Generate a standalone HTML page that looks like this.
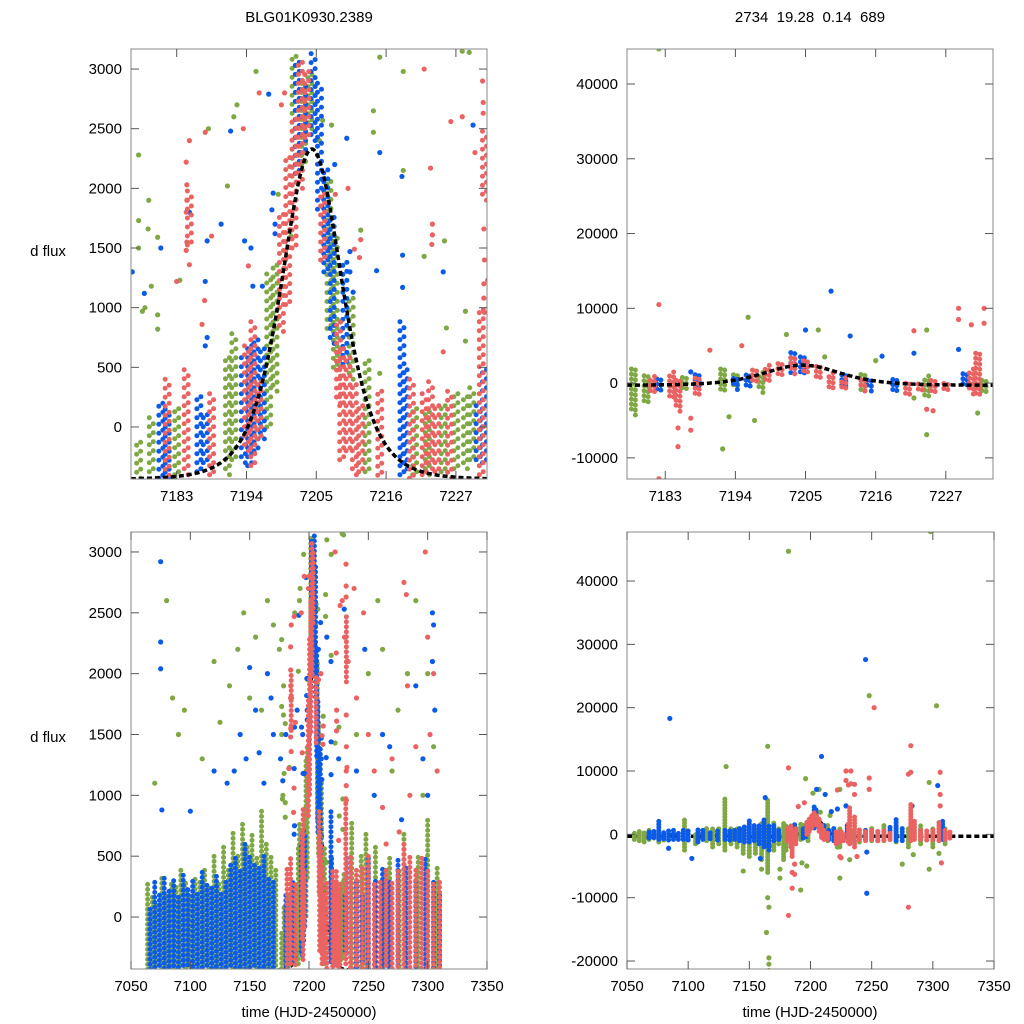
<!DOCTYPE html>
<html><head><meta charset="utf-8">
<style>
html,body{margin:0;padding:0;background:#fff;}
svg{display:block;font-family:"Liberation Sans",sans-serif;}
</style></head>
<body>
<svg id="chart" width="1024" height="1024" viewBox="0 0 1024 1024">
<text x="309" y="22" text-anchor="middle" font-size="15">BLG01K0930.2389</text>
<text x="810" y="22" text-anchor="middle" font-size="15" xml:space="preserve">2734  19.28  0.14  689</text>
<text x="48" y="256" text-anchor="middle" font-size="15">d flux</text>
<text x="48" y="742" text-anchor="middle" font-size="15">d flux</text>
<text x="309" y="1017" text-anchor="middle" font-size="15">time (HJD-2450000)</text>
<text x="810" y="1017" text-anchor="middle" font-size="15">time (HJD-2450000)</text>
</svg>
<script>
// ---- left star data: nightly streaks [time, lo, hi] and scattered points [time, flux]
const leftBlueStreaks=[[7066,-430,100],[7070,-430,300],[7074,-430,200],[7078,-430,350],[7082,-430,250],[7086,-400,300],[7090,-430,200],[7094,-430,350],[7098,-400,250],[7102,-430,300],[7106,-430,200],[7110,-430,400],[7114,-430,300],[7118,-430,250],[7122,-430,350],[7126,-430,200],[7130,-430,300],[7134,-430,450],[7138,-430,500],[7142,-430,400],[7146,-430,600],[7150,-430,500],[7154,-430,450],[7158,-430,400],[7162,-430,500],[7166,-430,350],[7170,-430,300],[7180.5,-430,200],[7181.5,-430,150],[7186.5,-400,300],[7187.5,-300,150],[7193.5,-300,600],[7194.5,-350,700],[7195.5,-200,750],[7196.5,-100,700],[7202,2100,3100],[7203,2300,2900],[7204.5,2400,3150],[7205.5,1800,2900],[7206.5,1300,2200],[7207.5,700,1800],[7209.5,500,1400],[7218.5,-400,900],[7219,-350,500],[7230.5,-300,200],[7231.5,-300,500],[7240,-430,300],[7245,-400,200],[7250,-430,500],[7256,-430,300],[7262,-430,400],[7268,-430,300],[7275,-430,500],[7282,-430,400],[7290,-430,300],[7298,-430,500],[7305,-430,300],[7310,-430,200]];
const leftRedStreaks=[[7181.5,-430,400],[7184.5,-400,500],[7185,1500,2000],[7188.5,-400,300],[7194,-200,700],[7195,-350,900],[7196,-100,400],[7199.5,800,1800],[7200.5,1000,2300],[7201.5,1500,2600],[7202.5,2000,3100],[7203.5,2400,3000],[7206,1400,2000],[7208.5,200,900],[7209,-300,700],[7210,-200,600],[7211,-400,400],[7212,-400,200],[7222,-400,300],[7223,-350,400],[7224,-400,200],[7231,-400,1000],[7231.5,1900,2500],[7215,-430,300],[7220,-430,400],[7226,-430,300],[7235,-430,500],[7240,-430,400],[7245,-430,400],[7250,-430,500],[7255,-430,300],[7260,-430,300],[7265,-430,400],[7270,-430,300],[7275,-430,400],[7280,-430,600],[7285,-430,500],[7290,-430,400],[7295,-430,500],[7300,-430,400],[7305,-430,300],[7310,-430,300]];
const leftGreenStreaks=[[7064,-430,300],[7068,-430,200],[7072,-430,100],[7076,-430,350],[7080,-430,200],[7084,-430,300],[7088,-430,250],[7092,-430,400],[7096,-430,300],[7100,-430,200],[7104,-430,350],[7108,-430,300],[7112,-430,400],[7116,-430,250],[7120,-430,500],[7124,-430,300],[7128,-430,600],[7132,-430,400],[7136,-430,700],[7140,-430,500],[7144,-430,800],[7148,-430,600],[7152,-430,700],[7156,-430,500],[7160,-430,900],[7164,-430,600],[7168,-430,500],[7172,-430,400],[7177,-430,-100],[7179,-400,100],[7183,-400,200],[7191,-400,600],[7192,-300,800],[7197.5,0,1300],[7198.5,300,1400],[7201.5,2000,3150],[7203,2200,2900],[7204,2500,3000],[7207,800,2100],[7208,500,1600],[7210.5,400,1100],[7213,-400,600],[7220.5,-400,200],[7222.5,-400,150],[7225,-400,200],[7227,-350,300],[7228.5,-350,300],[7229.5,-300,350],[7236,-430,800],[7244,-430,500],[7248,-430,700],[7256,-430,600],[7264,-430,400],[7268,-430,500],[7276,-430,400],[7280,-430,700],[7292,-430,500],[7300,-430,800],[7308,-430,400]];
const leftBluePts=[[7180.5,1500],[7177.9,1120],[7187.8,1560],[7187.5,1220],[7187.8,750],[7187.5,680],[7191.5,2480],[7193.7,1560],[7194.7,1500],[7195,1180],[7196.5,1180],[7197.5,2790],[7198.2,1960],[7198,1820],[7198.5,1700],[7198.5,1620],[7209.8,2420],[7207.9,2200],[7210.3,1470],[7210.3,1300],[7210.8,1130],[7214.5,1310],[7218.5,2100],[7218.6,1440],[7218.6,1170],[7229.7,2530],[7075,2920],[7075,2260],[7075,2040],[7076,880],[7100,870],[7120,1200],[7131,1100],[7137,1200],[7142,1500],[7147,1300],[7150,2050],[7155,1700],[7158,1350],[7162,1100],[7165,2000],[7168,1800],[7170,1500],[7176,1300],[7185,1800],[7190,1700],[7215,2300],[7225,1300],[7240,1200],[7247,2200],[7255,1000],[7262,1500],[7268,1400],[7278,800],[7290,1900],[7296,1300],[7304,2500],[7305,2400],[7304,2100],[7300,1000],[7306,1700]];
const leftRedPts=[[7183,1220],[7184.5,2220],[7184.6,2030],[7184.6,1900],[7184.5,1800],[7184.6,1550],[7184.5,1480],[7185,1360],[7187.5,2470],[7187.4,1060],[7188.5,1600],[7187,860],[7193.5,2500],[7194.3,1350],[7199.5,2700],[7200,2800],[7208,1950],[7211.8,1420],[7212,1570],[7211,1490],[7223,2170],[7223.3,1700],[7223.3,1610],[7223.2,1530],[7226.2,2560],[7231.2,2900],[7231.3,2720],[7231.3,2630],[7231.4,1660],[7231.5,1400],[7231.4,1200],[7231.4,1080],[7231.5,960],[7225,630],[7232,1230],[7185,2400],[7196,2800],[7210,2000],[7222,3000],[7228,2600],[7230,2300],[7233,2100],[7238,2700],[7240,1800],[7246,2500],[7250,1500],[7255,1200],[7262,900],[7270,1300],[7280,2750],[7282,2650],[7283,1900],[7285,1000],[7290,1400],[7298,3000],[7300,2300],[7302,1500],[7305,2000],[7308,1200],[7276,700],[7265,600]];
const leftGreenPts=[[7177,2280],[7177,1730],[7178.6,1900],[7178.5,1660],[7177,1500],[7180,1590],[7179,1180],[7178,1000],[7177.6,970],[7180,940],[7180,820],[7183.5,1230],[7188,2500],[7191,2020],[7192.5,2700],[7192,2600],[7195.5,2980],[7199,1950],[7201,1600],[7205.5,2400],[7206,2570],[7207.4,2530],[7212,1650],[7214,2650],[7214,2470],[7218.7,2980],[7218.7,2150],[7222,1430],[7225.2,1560],[7225.5,830],[7229.1,3140],[7228.5,970],[7228.5,720],[7215,450],[7195.5,160],[7070,1100],[7080,2600],[7085,1800],[7090,1500],[7095,1700],[7110,1300],[7120,2100],[7125,1600],[7133,1900],[7140,2200],[7145,2500],[7150,1800],[7155,2300],[7160,1700],[7165,2600],[7170,2400],[7175,2200],[7215,3100],[7228,3150],[7240,1500],[7250,2000],[7258,2600],[7262,2200],[7270,1200],[7275,1700],[7283,2000],[7290,2600],[7296,1000],[7300,2000],[7305,1400]];
const leftModel={t0:7204.3,base:-440,peak:2770,w:11};

// ---- right star data
const rightGreenStreaks=[[7056,-800,300],[7060,-1000,500],[7064,-1200,600],[7068,-800,800],[7072,-600,400],[7076,-1200,200],[7080,-900,500],[7097,-2500,2500],[7106,-1500,300],[7115,-1000,1000],[7120,-2000,1000],[7125,-1500,1000],[7130,-2500,6000],[7135,-1500,1200],[7140,-2000,1000],[7145,-3000,800],[7150,-3500,1200],[7155,-3000,1000],[7160,-4000,2000],[7165,-6000,5800],[7170,-2500,2000],[7174,-1500,1200],[7178,-4000,2000],[7180,-2500,1500],[7186,-1000,1200],[7192,-800,2000],[7194,-500,1500],[7198,-1000,1500],[7214,-1000,1500],[7224,-2000,1000],[7233,-1000,800],[7240,-1200,1000],[7250,-1000,1000],[7260,-1000,1500],[7270,-1200,1200],[7280,-2000,1000],[7290,-1500,1500],[7300,-2000,1200],[7310,-1500,1000]];
const rightBlueStreaks=[[7068,-600,600],[7072,-500,800],[7076,-800,2500],[7080,-700,700],[7084,-900,600],[7088,-800,700],[7092,-800,600],[7096,-800,800],[7100,-900,600],[7108,-1200,800],[7112,-800,900],[7118,-700,700],[7124,-900,800],[7130,-800,1000],[7134,-900,900],[7138,-800,1000],[7142,-1000,1000],[7146,-1200,1500],[7150,-1200,2500],[7154,-1000,1500],[7158,-1500,1500],[7162,-2000,2500],[7166,-2500,1500],[7170,-1000,1500],[7174,-800,1000],[7182,-800,1000],[7188,-500,1200],[7194,-600,1000],[7196,-400,1200],[7203,1000,4500],[7204.5,1500,4000],[7211,-500,1500],[7215,-800,800],[7219,-1000,1000],[7230,-500,1500],[7245,-800,1000],[7255,-1000,800],[7265,-800,1200],[7270,-1000,2500],[7275,-1000,1000],[7308,-800,2500]];
const rightRedStreaks=[[7181,-1000,1000],[7184,-2000,1500],[7185,-3500,500],[7188,-1500,1000],[7197,0,2000],[7199,500,2500],[7201,1000,3000],[7203,1500,3500],[7205,1500,3000],[7207,500,2500],[7209,-500,1500],[7211,-800,800],[7214,-800,600],[7221,-1500,500],[7223,-1200,400],[7225,-1000,600],[7227,-1000,200],[7231,-1200,2000],[7232,-1500,4500],[7236,-2000,3000],[7240,-800,1000],[7245,-1000,800],[7250,-800,900],[7255,-1000,700],[7260,-900,800],[7265,-800,600],[7282,-1000,5000],[7285,-800,2500],[7290,-800,1000],[7295,-900,900],[7300,-800,800],[7305,-1000,2000],[7310,-800,800],[7314,-600,600]];
const rightBluePts=[[7085,18300],[7209,12300],[7245,27600],[7246,-9300],[7304,7700],[7212,6300],[7187,1500],[7103,-3800],[7084,-2200],[7205,7100],[7222,4000],[7163,5800],[7159,-3800],[7246,-2800],[7283,4500],[7229,4500],[7217,3600],[7166,-1800]];
const rightRedPts=[[7182,10500],[7185,-6000],[7185,-8500],[7182,-12800],[7229,10000],[7229,8500],[7231,7800],[7236,7900],[7236,6300],[7248,8900],[7248,7100],[7252,20000],[7282,14000],[7280,9500],[7282,9800],[7280,-11500],[7306,6300],[7306,4500],[7307,-4500],[7233,10000],[7233,8000],[7222,7000],[7238,-3500],[7187,-6300],[7187,-4700],[7195,5000],[7224,-3500],[7225,-3700],[7190,4400],[7306,9800]];
const rightGreenPts=[[7182,44700],[7298,47800],[7248,21900],[7303,20300],[7131,10700],[7165,13900],[7196,8800],[7192,-8800],[7165,-10000],[7166,-11500],[7164,-15500],[7166,-19500],[7166,-20500],[7166,-21500],[7160,-5500],[7145,-5800],[7175,-5500],[7175,-6900],[7224,-6900],[7207,7100],[7224,7100],[7297,8200],[7297,-5500],[7305,-3000],[7197,-5000],[7193,-4500],[7216,3000],[7202,6500],[7232,-4000],[7222,-2000],[7275,-4700],[7284,-3200],[7208,3500]];
const rightModel={t0:7204.5,base:-300,peak:2700,w:14};

// ---- axis ticks
const zoomXTicksLeft=[7183,7194,7205,7216,7227];
const zoomXTicksRight=[7183,7194,7205,7216,7227];
const fullXTicks=[7050,7100,7150,7200,7250,7300,7350];
const leftYTicks=[0,500,1000,1500,2000,2500,3000];
const rightYTicksTop=[-10000,0,10000,20000,30000,40000];
const rightYTicksBottom=[-20000,-10000,0,10000,20000,30000,40000];

const NS='http://www.w3.org/2000/svg';
const svg=document.getElementById('chart');
const COL={g:'#7fa845',b:'#0b5be8',r:'#ea6262'};
function mk(tag,attrs,parent){const e=document.createElementNS(NS,tag);for(const k in attrs)e.setAttribute(k,attrs[k]);(parent||svg).appendChild(e);return e;}

function panel(id,cfg,data){
  const sx=t=>cfg.x0+(t-cfg.xmin)/(cfg.xmax-cfg.xmin)*(cfg.x1-cfg.x0);
  const sy=v=>cfg.y1-(v-cfg.ymin)/(cfg.ymax-cfg.ymin)*(cfg.y1-cfg.y0);
  const g=mk('g',{});
  
  
  const cp=mk('clipPath',{id:id+'-clip'},g);
  mk('rect',{x:cfg.x0,y:cfg.y0,width:cfg.x1-cfg.x0,height:cfg.y1-cfg.y0},cp);
  const plot=mk('g',{'clip-path':'url(#'+id+'-clip)'},g);
  const m=data.model;let dd='';
  for(let i=0;i<=400;i++){const t=cfg.xmin+(cfg.xmax-cfg.xmin)*i/400;const x=(t-m.t0)/m.w;const v=m.base+m.peak/Math.pow(1+x*x,3);dd+=(i?'L':'M')+sx(t).toFixed(1)+' '+sy(v).toFixed(1);}
  const mp=mk('path',{d:dd,fill:'none',stroke:'#000','stroke-width':3.5,'stroke-dasharray':'5 3'});
  
  
  if(!cfg.modelOnTop) plot.appendChild(mp);
  const order=[['g',data.gS,data.gP,'green'],['b',data.bS,data.bP,'blue'],['r',data.rS,data.rP,'red']];
  for(const [c,streaks,pts,nm] of order){
    const sg=mk('g',{},plot);
    
    
    streaks.forEach((s,i)=>{
      const x=sx(s[0]);
      for(let k=0;k<cfg.cols;k++){
        const off=(k-(cfg.cols-1)/2)*cfg.colGap;
        const l=mk('line',{x1:x+off,x2:x+off,y1:sy(s[1])+k*2,y2:sy(s[2]),stroke:COL[c],'stroke-width':cfg.sw,'stroke-linecap':'round','stroke-dasharray':'0 '+cfg.gap,'stroke-dashoffset':((i*3+k*4)%cfg.gap)},sg);
        
        
      }
    });
    for(const p of pts){
      const d=mk('circle',{cx:sx(p[0]),cy:sy(p[1]),r:2.6,fill:COL[c]},sg);
      
      
    }
  }
  if(cfg.modelOnTop) plot.appendChild(mp);
  const fr=mk('rect',{x:cfg.x0,y:cfg.y0,width:cfg.x1-cfg.x0,height:cfg.y1-cfg.y0,fill:'none',stroke:'#888','stroke-width':1},g);
  
  
  for(const t of cfg.xt){
    const x=sx(t);
    mk('line',{x1:x,x2:x,y1:cfg.y1,y2:cfg.y1-8,stroke:'#555'},g);
    mk('line',{x1:x,x2:x,y1:cfg.y0,y2:cfg.y0+8,stroke:'#555'},g);
    const tx=mk('text',{x:x,y:cfg.y1+22,'text-anchor':'middle','font-size':15},g);
    tx.textContent=t;
    
    
  }
  for(const v of cfg.yt){
    const y=sy(v);
    mk('line',{x1:cfg.x0,x2:cfg.x0+8,y1:y,y2:y,stroke:'#555'},g);
    mk('line',{x1:cfg.x1,x2:cfg.x1-8,y1:y,y2:y,stroke:'#555'},g);
    const tx=mk('text',{x:cfg.x0-9,y:y+5,'text-anchor':'end','font-size':15},g);
    tx.textContent=v;
    
    
  }
}
const L={gS:leftGreenStreaks,bS:leftBlueStreaks,rS:leftRedStreaks,gP:leftGreenPts,bP:leftBluePts,rP:leftRedPts,model:leftModel};
const R={gS:rightGreenStreaks,bS:rightBlueStreaks,rS:rightRedStreaks,gP:rightGreenPts,bP:rightBluePts,rP:rightRedPts,model:rightModel};
panel('top-left',{x0:131,x1:487,y0:49,y1:479,xmin:7175.8,xmax:7231.9,ymin:-436,ymax:3168,xt:zoomXTicksLeft,yt:leftYTicks,sw:5,gap:9,cols:2,colGap:4,modelOnTop:true},L);
panel('top-right',{x0:627,x1:993,y0:49,y1:479,xmin:7177.0,xmax:7234.4,ymin:-12830,ymax:44680,xt:zoomXTicksRight,yt:rightYTicksTop,sw:5,gap:5,cols:2,colGap:4,modelOnTop:true},R);
panel('bottom-left',{x0:131,x1:487,y0:532,y1:969,xmin:7050,xmax:7350,ymin:-427,ymax:3164,xt:fullXTicks,yt:leftYTicks,sw:5,gap:5,cols:1,colGap:0,modelOnTop:false},L);
panel('bottom-right',{x0:627,x1:994,y0:532,y1:969,xmin:7050,xmax:7350,ymin:-21260,ymax:47740,xt:fullXTicks,yt:rightYTicksBottom,sw:5,gap:3,cols:1,colGap:0,modelOnTop:false},R);
</script>
</body></html>
